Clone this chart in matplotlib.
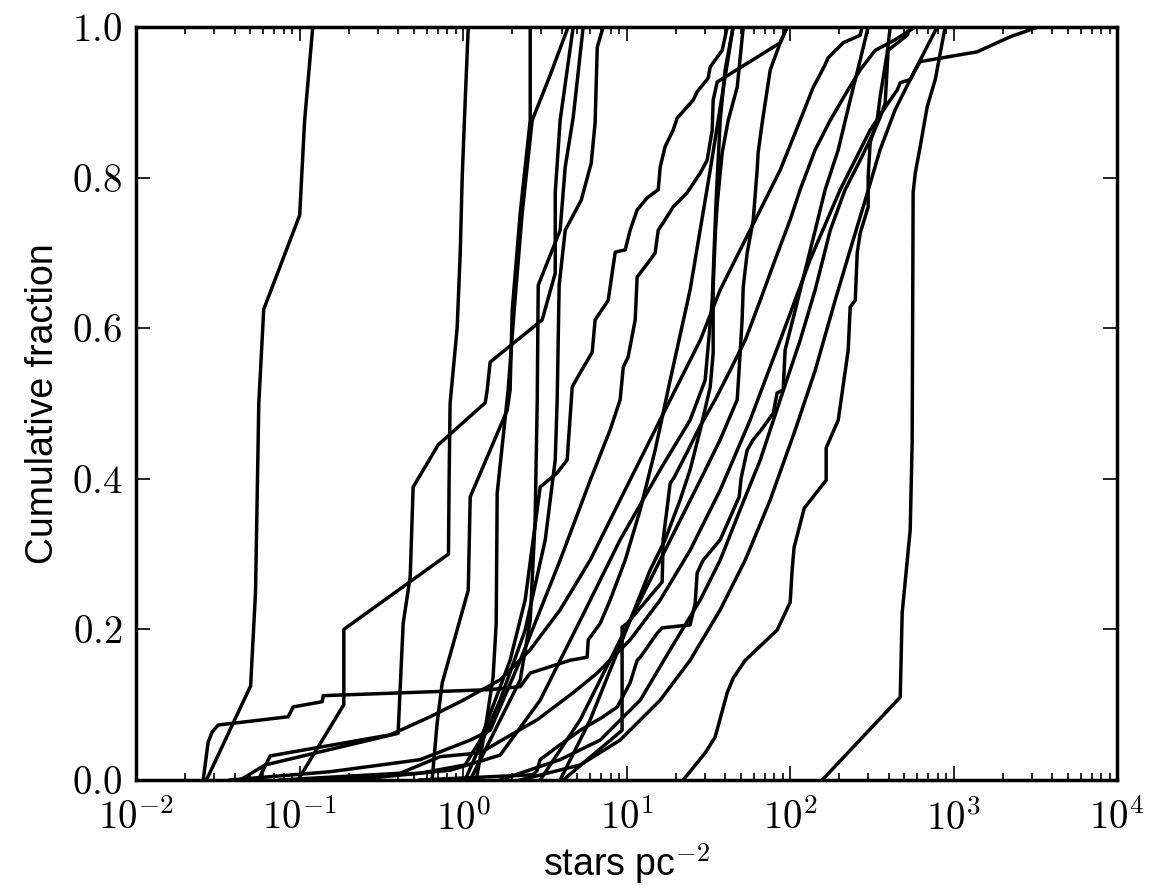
import numpy as np
import matplotlib.pyplot as plt
from matplotlib.ticker import FixedLocator, LogLocator, FuncFormatter, NullFormatter

plt.rcParams['mathtext.fontset'] = 'cm'
plt.rcParams['font.family'] = ['Liberation Sans', 'DejaVu Sans']

# log10(stars pc^-2) and cumulative fraction, one pair per region

r01_logx = [-1.57, -1.30, -1.27, -1.26, -1.25, -1.22, -1.00, -0.97, -0.92]
r01_frac = [0, .125, .25, .375, .5, .625, .75, .875, 1]

r02_logx = [-1.01, -0.73, -0.73, -0.09, -0.086, -0.08, -0.037, -0.018, -0.006, 0.012, 0.031]
r02_frac = [0, .1, .2, .3, .4, .5, .6, .7, .8, .9, 1]

r03_logx = [-1.59, -1.56, -1.535, -1.498, -1.07, -1.04, -0.862, -0.856, 0.165, 0.349, 0.41,
            0.654, 0.758, 0.765, 0.838, 0.899, 0.991, 1.083, 1.174, 1.266, 1.388, 1.511, 1.651]
r03_frac = [0, .05, .064, .073, .084, .097, .104, .112, .12, .124, .142,
            .159, .163, .186, .208, .239, .292, .359, .438, .531, .651, .81, 1]

r04_logx = [-1.364, -1.211, -0.398, -0.367, -0.324, -0.306, -0.153, 0.135, 0.147, 0.165,
            0.483, 0.563, 0.563, 0.593, 0.673]
r04_frac = [0, .02, .062, .208, .27, .389, .445, .501, .518, .555,
            .611, .673, .78, .876, 1]

r05_logx = [-1.254, -1.18, -0.446, -0.202, 0, 0.226, 0.41, 0.593, 0.777, 0.96, 1.144, 1.327,
            1.45, 1.572, 1.694, 1.817, 1.939, 2.061, 2.141, 2.171, 2.214, 2.232, 2.324, 2.428, 2.44]
r05_frac = [0, .032, .06, .084, .106, .133, .173, .226, .292, .372, .452, .531,
            .584, .651, .704, .757, .81, .876, .92, .932, .95, .959, .979, .989, 1]

r06_logx = [-0.19, -0.159, -0.128, 0.031, 0.043, 0.269, 0.287, 0.3, 0.349, 0.41, 0.41]
r06_frac = [0, .076, .129, .252, .376, .491, .518, .624, .753, .876, 1]

r07_logx = [0.08, 0.141, 0.183, 0.202, 0.208, 0.275, 0.312, 0.361, 0.422, 0.532, 0.642]
r07_frac = [0, .076, .137, .208, .381, .518, .624, .753, .876, .936, 1]

r08_logx = [0.043, 0.165, 0.349, 0.41, 0.44, 0.453, 0.459, 0.593, 0.624, 0.673, 0.734]
r08_frac = [0, .053, .133, .212, .345, .505, .657, .73, .814, .88, 1]

r09_logx = [0.012, 0.104, 0.226, 0.379, 0.502, 0.563, 0.575, 0.587, 0.624, 0.722, 0.783,
            0.807, 0.82, 0.856]
r09_frac = [0, .046, .106, .199, .319, .425, .505, .657, .73, .77, .819,
            .873, .973, 1]

r10_logx = [-0.997, -0.263, 0.012, 0.104, 0.196, 0.287, 0.379, 0.471, 0.575, 0.636, 0.667,
            0.716, 0.789, 0.807, 0.887, 0.899, 0.93, 0.991, 1.021, 1.064, 1.125, 1.193,
            1.205, 1.235, 1.284, 1.309, 1.407, 1.431, 1.498, 1.511, 1.584, 1.615]
r10_frac = [0, .009, .02, .053, .106, .159, .239, .389, .408, .425, .522,
            .541, .568, .611, .637, .655, .701, .704, .73, .757, .773, .784,
            .814, .841, .863, .879, .903, .914, .932, .947, .969, 1]

r11_logx = [-1.425, -0.813, -0.263, 0.043, 0.165, 0.349, 0.593, 0.777, 0.899, 0.96, 0.979,
            1.009, 1.052, 1.064, 1.131, 1.174, 1.193, 1.235, 1.284, 1.37, 1.45, 1.492,
            1.523, 1.529, 1.554, 1.939, 1.982]
r11_frac = [0, .011, .027, .053, .066, .159, .292, .398, .465, .505, .548,
            .562, .611, .668, .687, .7, .73, .744, .761, .78, .806, .823,
            .863, .903, .927, .979, 1]

r12_logx = [0.593, 0.777, 0.899, 1.021, 1.144, 1.235, 1.327, 1.388, 1.45, 1.511, 1.529,
            1.529, 1.541, 1.554, 1.584, 1.621, 1.676, 1.713]
r12_frac = [0, .08, .146, .212, .279, .319, .372, .412, .465, .522, .567,
            .655, .721, .766, .833, .876, .92, 1]

r13_logx = [0.471, 0.716, 0.96, 1.205, 1.45, 1.572, 1.676, 1.694, 1.706, 1.713, 1.737,
            1.755, 1.774, 1.798, 1.804, 1.829, 1.859, 1.878, 1.939, 1.982]
r13_frac = [0, .08, .186, .292, .398, .452, .505, .567, .611, .655, .7,
            .721, .744, .81, .833, .873, .916, .943, .979, 1]

r14_logx = [-0.691, -0.08, 0.226, 0.471, 0.716, 0.96, 1.205, 1.388, 1.48, 1.523, 1.547,
            1.572, 1.602, 1.651]
r14_frac = [0, .013, .033, .106, .212, .319, .412, .478, .531, .637, .77,
            .876, .943, 1]

r15_logx = [0.612, 0.972, 0.972, 1.003, 1.217, 1.223, 1.266, 1.291, 1.376, 1.437, 1.541,
            1.633, 1.725, 1.817, 1.908, 2.0, 2.061, 2.153, 2.245, 2.336, 2.428, 2.52,
            2.642, 2.765]
r15_frac = [0, .066, .203, .208, .263, .319, .394, .402, .438, .465, .505,
            .544, .584, .637, .691, .744, .784, .837, .876, .91, .943, .969,
            .983, 1]

r16_logx = [-0.263, 0.428, 0.453, 0.471, 0.575, 0.716, 0.856, 0.942, 1.021, 1.064, 1.083,
            1.187, 1.217, 1.388, 1.419, 1.431, 1.468, 1.572, 1.688, 1.7, 1.737, 1.774,
            1.823, 1.896, 1.92, 1.957, 1.969, 2.031, 2.092, 2.153, 2.214, 2.294, 2.367,
            2.428, 2.477]
r16_frac = [0, .007, .013, .027, .044, .066, .084, .097, .129, .159, .163,
            .195, .202, .206, .235, .275, .292, .319, .376, .401, .438, .452,
            .465, .487, .514, .518, .571, .624, .677, .73, .784, .837, .903,
            .956, 1]

r17_logx = [1.346, 1.48, 1.541, 1.615, 1.651, 1.725, 1.92, 2.0, 2.012, 2.024, 2.086,
            2.22, 2.22, 2.294, 2.355, 2.367, 2.398, 2.41, 2.428, 2.477, 2.477, 2.489,
            2.532, 2.55, 2.593, 2.612]
r17_frac = [0, .036, .057, .116, .135, .159, .199, .236, .279, .309, .361,
            .398, .441, .478, .571, .628, .637, .7, .726, .761, .801, .846,
            .876, .907, .965, 1]

r18_logx = [2.196, 2.673, 2.685, 2.734, 2.746, 2.752, 2.765, 2.795, 2.838, 2.887, 2.948]
r18_frac = [0, .11, .222, .332, .448, .78, .806, .841, .894, .93, 1]

r19_logx = [-1.119, -0.385, -0.141, 0.104, 0.269, 0.453, 0.673, 0.82, 1.021, 1.205, 1.388,
            1.572, 1.755, 1.939, 2.122, 2.306, 2.489, 2.599, 2.654, 2.673, 2.734, 2.765,
            2.795, 3.144, 3.346, 3.517]
r19_frac = [0, .009, .031, .036, .057, .08, .116, .142, .186, .239, .305,
            .385, .478, .584, .691, .784, .863, .899, .916, .926, .93, .943,
            .954, .967, .987, 1]

r20_logx = [0.226, 0.593, 0.838, 1.083, 1.266, 1.45, 1.572, 1.694, 1.817, 1.939, 2.061,
            2.153, 2.245, 2.336, 2.428, 2.508, 2.55, 2.581, 2.599, 2.716, 2.734]
r20_frac = [0, .027, .053, .106, .173, .239, .292, .359, .425, .505, .584,
            .651, .73, .784, .823, .859, .88, .899, .969, .989, 1]

r21_logx = [0.349, 0.716, 0.96, 1.205, 1.388, 1.572, 1.725, 1.878, 2.031, 2.153, 2.275,
            2.367, 2.459, 2.55, 2.642, 2.734, 2.826, 2.899]
r21_frac = [0, .02, .053, .106, .159, .226, .292, .372, .465, .544, .637,
            .704, .77, .837, .89, .93, .969, 1]

regions = [
    (r01_logx, r01_frac), (r02_logx, r02_frac), (r03_logx, r03_frac),
    (r04_logx, r04_frac), (r05_logx, r05_frac), (r06_logx, r06_frac),
    (r07_logx, r07_frac), (r08_logx, r08_frac), (r09_logx, r09_frac),
    (r10_logx, r10_frac), (r11_logx, r11_frac), (r12_logx, r12_frac),
    (r13_logx, r13_frac), (r14_logx, r14_frac), (r15_logx, r15_frac),
    (r16_logx, r16_frac), (r17_logx, r17_frac), (r18_logx, r18_frac),
    (r19_logx, r19_frac), (r20_logx, r20_frac), (r21_logx, r21_frac),
]

fig = plt.figure(figsize=(11.54, 8.9), dpi=100)
ax = fig.add_axes([0.118, 0.1236, 0.8501, 0.8461])

for logx, frac in regions:
    ax.plot(10 ** np.array(logx), frac, color='black', lw=2.5)

ax.set_xscale('log')
ax.set_xlim(1e-2, 1e4)
ax.set_ylim(0, 1)

ax.xaxis.set_major_locator(FixedLocator([1e-2, 1e-1, 1e0, 1e1, 1e2, 1e3, 1e4]))
ax.xaxis.set_minor_locator(LogLocator(base=10, subs=np.arange(2, 10)))
ax.xaxis.set_minor_formatter(NullFormatter())
ax.xaxis.set_major_formatter(FuncFormatter(lambda v, p: r'$10^{%d}$' % round(np.log10(v))))
ax.yaxis.set_major_locator(FixedLocator([0, .2, .4, .6, .8, 1.0]))
ax.yaxis.set_major_formatter(FuncFormatter(lambda v, p: r'$%.1f$' % v))

ax.tick_params(which='both', direction='in', top=True, right=True, width=1.2)
ax.tick_params(which='major', length=10, labelsize=28)
ax.tick_params(which='minor', length=5)
ax.tick_params(axis='x', pad=14)
ax.tick_params(axis='y', pad=10)
for s in ax.spines.values():
    s.set_linewidth(2.5)

ax.set_xlabel(r'stars pc$^{\mathsf{-2}}$', fontsize=27, labelpad=2)
ax.set_ylabel('Cumulative fraction', fontsize=27, labelpad=8)

fig.savefig('out.png', dpi=100)
